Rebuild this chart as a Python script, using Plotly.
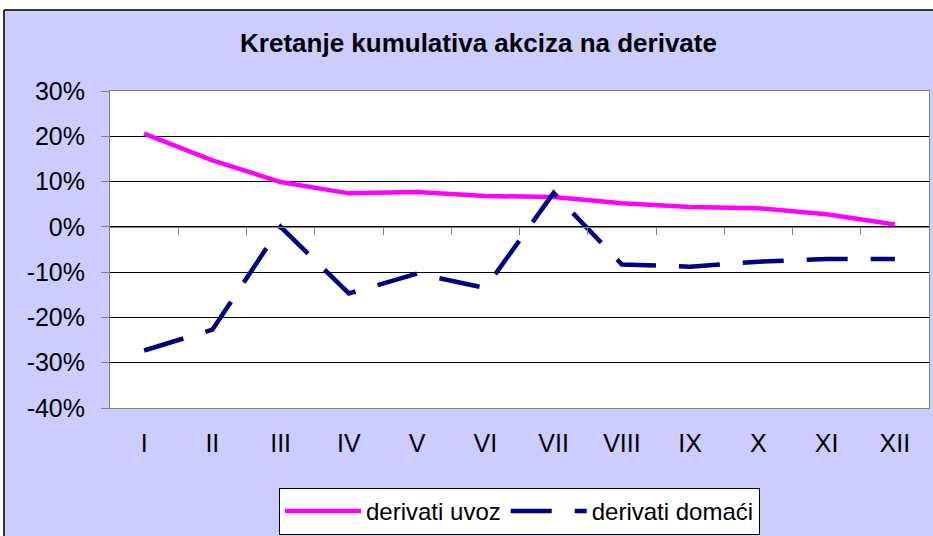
import plotly.graph_objects as go

months = ["I", "II", "III", "IV", "V", "VI", "VII", "VIII", "IX", "X", "XI", "XII"]
uvoz = [20.6, 14.7, 9.9, 7.4, 7.7, 6.8, 6.6, 5.2, 4.4, 4.1, 2.8, 0.5]
domaci = [-27.3, -22.7, 0.0, -14.7, -10.3, -13.5, 7.5, -8.3, -8.8, -7.7, -7.1, -7.1]
y_ticks = [-40, -30, -20, -10, 0, 10, 20, 30]
y_labels = ["-40%", "-30%", "-20%", "-10%", "0%", "10%", "20%", "30%"]

idx = list(range(len(months)))
bounds = [i + 0.5 for i in idx]

FONT = "Liberation Sans, Arial, sans-serif"
W, H = 933, 536
ML, MR, MT, MB = 110, 4, 91, 128
PW, PH = W - ML - MR, H - MT - MB


def px_x(p):
    return (p - ML) / PW


def px_y(p):
    return (H - MB - p) / PH


fig = go.Figure()
fig.add_trace(go.Scatter(
    x=idx, y=uvoz, mode="lines", name="derivati uvoz",
    line=dict(color="#FF00FF", width=4.5),
))
fig.add_trace(go.Scatter(
    x=idx, y=domaci, mode="lines", name="derivati domaći", xaxis="x2",
    line=dict(color="#000080", width=4.5, dash="41px,23px"),
))

fig.update_layout(
    width=W, height=H,
    margin=dict(l=ML, r=MR, t=MT, b=MB, autoexpand=False),
    paper_bgcolor="#CCCCFF",
    plot_bgcolor="#FFFFFF",
    showlegend=True,
    title=dict(
        text="<b>Kretanje kumulativa akciza na derivate</b>",
        x=478.5 / W, xanchor="center", xref="container",
        y=1 - 42.5 / H, yanchor="middle", yref="container",
        font=dict(family=FONT, size=26, color="#000000"),
    ),
    xaxis=dict(
        range=[-0.5, 11.5], tickmode="array", tickvals=idx, ticktext=months,
        ticks="", showgrid=False, zeroline=False,
        showline=True, mirror=True, linecolor="#808080", linewidth=1,
        tickfont=dict(family=FONT, size=25, color="#000000"),
        ticklabelstandoff=13,
    ),
    xaxis2=dict(
        overlaying="x", anchor="free", position=4 / 7,
        range=[-0.5, 11.5], tickmode="array", tickvals=bounds,
        showticklabels=False, ticks="outside", ticklen=7, tickcolor="#808080",
        showgrid=False, zeroline=False,
        showline=True, linecolor="#808080", linewidth=1,
    ),
    yaxis=dict(
        range=[-40, 30], tickmode="array", tickvals=y_ticks, ticktext=y_labels,
        ticks="outside", ticklen=8, tickcolor="#808080",
        showgrid=True, gridcolor="#000000", gridwidth=1, zeroline=False,
        showline=True, mirror=True, linecolor="#808080", linewidth=1,
        tickfont=dict(family=FONT, size=25, color="#000000"),
        ticklabelstandoff=11,
    ),
    legend=dict(
        orientation="h", x=px_x(519.5), xanchor="center", y=px_y(488), yanchor="top",
        bgcolor="#FFFFFF", bordercolor="#000000", borderwidth=1,
        font=dict(family=FONT, size=24, color="#000000"),
        itemwidth=76,
    ),
    shapes=[
        dict(type="rect", xref="paper", yref="paper",
             x0=px_x(-5), x1=px_x(W + 5), y0=px_y(10), y1=px_y(-5),
             fillcolor="#FFFFFF", line=dict(width=0)),
        dict(type="rect", xref="paper", yref="paper",
             x0=px_x(-5), x1=px_x(4), y0=px_y(H + 5), y1=px_y(-5),
             fillcolor="#FFFFFF", line=dict(width=0)),
        dict(type="line", xref="paper", yref="paper",
             x0=px_x(4), x1=px_x(W + 5), y0=px_y(10), y1=px_y(10),
             line=dict(color="#333333", width=2)),
        dict(type="line", xref="paper", yref="paper",
             x0=px_x(4), x1=px_x(4), y0=px_y(10), y1=px_y(H + 5),
             line=dict(color="#333333", width=2)),
    ],
)

fig.write_html(
    "out.html",
    config={"displayModeBar": False},
    post_script="document.body.style.margin='0';document.body.style.overflow='hidden';",
)
